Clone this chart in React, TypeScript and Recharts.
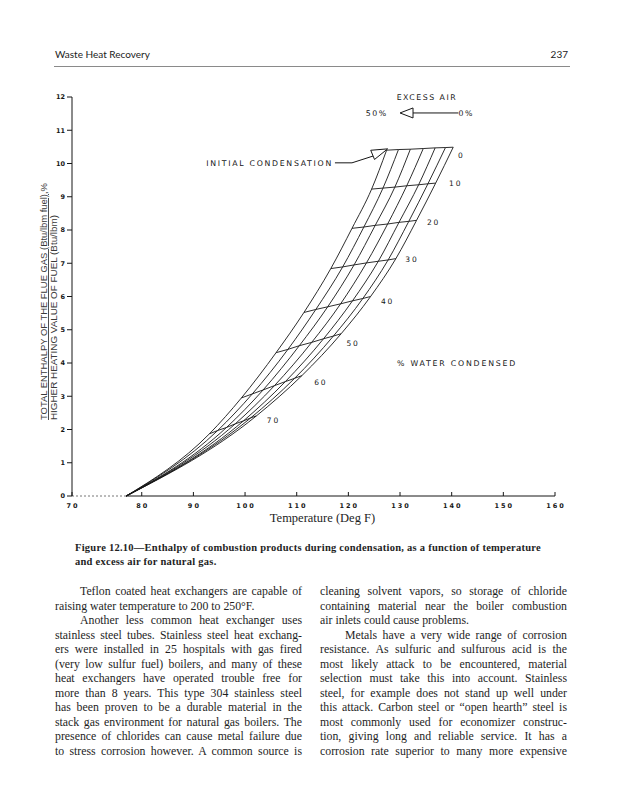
import React from "react";
import { LineChart, Line, XAxis, YAxis, ReferenceDot, ReferenceLine } from "recharts";

const waterCondensed = [0, 10, 20, 30, 40, 50, 60, 70];
const excessAir = [50, 40, 30, 20, 10, 5, 0];
const tempTicks = [70, 80, 90, 100, 110, 120, 130, 140, 150, 160];
const enthalpyTicks = [0, 1, 2, 3, 4, 5, 6, 7, 8, 9, 10, 11, 12];
const startTemp = 77; // every curve leaves the axis here
// the drawn axis starts a little left of 70 deg (first interval is stretched on the original)
const axisStart = 66.5;

// deg F where each excess-air curve crosses the 0..70 % condensed lines
const temp50 = [127.4, 124.5, 120.7, 116.6, 111.4, 106.0, 99.3, 93.1];
const temp40 = [129.7, 126.7, 123.0, 118.9, 113.7, 108.3, 101.4, 94.7];
const temp30 = [132.0, 129.0, 125.2, 121.1, 116.0, 110.5, 103.5, 96.4];
const temp20 = [134.5, 131.3, 127.6, 123.5, 118.5, 112.9, 105.7, 98.1];
const temp10 = [136.8, 133.6, 129.8, 125.8, 120.8, 115.2, 107.8, 99.7];
const temp5 = [138.8, 135.4, 131.7, 127.7, 122.8, 117.1, 109.6, 101.1];
const temp0 = [140.3, 136.9, 133.2, 129.2, 124.3, 118.6, 111.0, 102.2];

// enthalpy / HHV (%) at the same crossings
const enth50 = [10.4, 9.23, 8.05, 6.84, 5.52, 4.31, 2.95, 1.87];
const enth40 = [10.42, 9.26, 8.09, 6.89, 5.61, 4.41, 3.07, 1.97];
const enth30 = [10.43, 9.29, 8.14, 6.95, 5.69, 4.52, 3.19, 2.06];
const enth20 = [10.45, 9.33, 8.18, 7.01, 5.78, 4.62, 3.32, 2.17];
const enth10 = [10.47, 9.36, 8.23, 7.06, 5.87, 4.73, 3.44, 2.26];
const enth5 = [10.48, 9.39, 8.26, 7.1, 5.94, 4.81, 3.54, 2.35];
const enth0 = [10.49, 9.41, 8.29, 7.14, 6.0, 4.88, 3.62, 2.41];

const temps = [temp50, temp40, temp30, temp20, temp10, temp5, temp0];
const enths = [enth50, enth40, enth30, enth20, enth10, enth5, enth0];

const curves = excessAir.map((ea, i) => ({
  ea,
  points: [
    { t: startTemp, v: 0 },
    ...waterCondensed.map((_, j) => ({ t: temps[i][j], v: enths[i][j] })).reverse(),
  ],
}));

const crossLines = waterCondensed.map((w, j) => ({
  w,
  points: excessAir.map((_, i) => ({ t: temps[i][j], v: enths[i][j] })),
}));

const axisTicks = [axisStart, ...tempTicks.slice(1)];

const INK = "#161616";
const LETTER = "'DejaVu Sans', sans-serif";

// where the "% condensed" numbers sit relative to the end of their line (px)
const levelNudge: Record<number, [number, number]> = {
  0: [8, 11], 10: [20, 3], 20: [17, 5], 30: [16, 3], 40: [17, 7], 50: [12, 12], 60: [19, 9], 70: [17, 7],
};

const lettering = (text: string, dx: number, dy: number, anchor = "middle", size = 7.8, spacing = 1.5) =>
  (p: any) => (
    <text x={p.cx + dx} y={p.cy + dy} textAnchor={anchor} fontSize={size} fontFamily={LETTER}
      fill={INK} style={{ letterSpacing: spacing }}>{text}</text>
  );

const XTick = (p: any) => (
  <g>
    <line x1={p.x} x2={p.x} y1={p.y} y2={p.y - 4} stroke={INK} />
    <text x={p.x + 1} y={p.y + 12} textAnchor="middle" fontSize={6.5} fontFamily={LETTER}
      fontWeight="bold" fill={INK} style={{ letterSpacing: 2 }}>
      {p.payload.value === axisStart ? tempTicks[0] : p.payload.value}
    </text>
  </g>
);

const leftLines = [
  { s: "Teflon coated heat exchangers are capable of", indent: true },
  { s: "raising water temperature to 200 to 250°F.", last: true },
  { s: "Another less common heat exchanger uses", indent: true },
  { s: "stainless steel tubes. Stainless steel heat exchang-" },
  { s: "ers were installed in 25 hospitals with gas fired" },
  { s: "(very low sulfur fuel) boilers, and many of these" },
  { s: "heat exchangers have operated trouble free for" },
  { s: "more than 8 years. This type 304 stainless steel" },
  { s: "has been proven to be a durable material in the" },
  { s: "stack gas environment for natural gas boilers. The" },
  { s: "presence of chlorides can cause metal failure due" },
  { s: "to stress corrosion however. A common source is" },
];

const rightLines = [
  { s: "cleaning solvent vapors, so storage of chloride" },
  { s: "containing material near the boiler combustion" },
  { s: "air inlets could cause problems.", last: true },
  { s: "Metals have a very wide range of corrosion", indent: true },
  { s: "resistance. As sulfuric and sulfurous acid is the" },
  { s: "most likely attack to be encountered, material" },
  { s: "selection must take this into account. Stainless" },
  { s: "steel, for example does not stand up well under" },
  { s: "this attack. Carbon steel or “open hearth” steel is" },
  { s: "most commonly used for economizer construc-" },
  { s: "tion, giving long and reliable service. It has a" },
  { s: "corrosion rate superior to many more expensive" },
];

function Column({ lines, left }: { lines: any[]; left: number }) {
  return (
    <div style={{ position: "absolute", left, top: 584, width: 247, fontFamily: "'Liberation Serif', serif", fontSize: 11.8, lineHeight: "14.5px", color: "#1e1e1e" }}>
      {lines.map((l, i) => (
        <div key={i} style={{ paddingLeft: l.indent ? 25 : 0, textAlign: "justify", textAlignLast: l.last ? "left" : "justify", whiteSpace: "nowrap" }}>{l.s}</div>
      ))}
    </div>
  );
}

export default function App() {
  return (
    <div style={{ position: "absolute", left: 0, top: 0, width: 619, height: 800, background: "#fff", overflow: "hidden" }}>
      <div style={{ position: "absolute", left: 55, top: 48, fontFamily: "Lato, sans-serif", fontSize: 10, color: "#222" }}>Waste Heat Recovery</div>
      <div style={{ position: "absolute", right: 51, top: 48, fontFamily: "Lato, sans-serif", fontSize: 10, color: "#222" }}>237</div>
      <div style={{ position: "absolute", left: 54, top: 66, width: 516, height: 1, background: "#8a8a8a" }} />

      <div style={{ position: "absolute", left: 0, top: 0 }}>
        <LineChart width={619} height={540} margin={{ top: 97, right: 64, bottom: 0, left: 0 }}>
          <XAxis type="number" dataKey="t" domain={[axisStart, 160]} ticks={axisTicks} axisLine={false}
            tickSize={0} tickMargin={0} height={44} tick={(p: any) => <XTick {...p} />}
            label={{ value: "Temperature (Deg F)", position: "insideBottom", offset: 18, dx: 9, fontSize: 12.5, fontFamily: "'Liberation Serif', serif", fill: "#1e1e1e" }} />
          <YAxis type="number" domain={[0, 12]} ticks={enthalpyTicks} width={72} tickSize={5} tickMargin={2}
            axisLine={{ stroke: INK }} tickLine={{ stroke: INK }}
            tick={{ fontSize: 6.5, fontFamily: LETTER, fontWeight: "bold", fill: INK }} />

          <ReferenceLine segment={[{ x: axisStart, y: 0 }, { x: startTemp, y: 0 }]} stroke="#777" strokeDasharray="2 2" />
          <ReferenceLine segment={[{ x: startTemp, y: 0 }, { x: 160, y: 0 }]} stroke={INK} />

          {curves.map((c) => (
            <Line key={`ea${c.ea}`} data={c.points} dataKey="v" type="monotone" stroke={INK} strokeWidth={0.9}
              dot={false} activeDot={false} isAnimationActive={false} />
          ))}
          {crossLines.map((c) => (
            <Line key={`wc${c.w}`} data={c.points} dataKey="v" type="linear" stroke={INK} strokeWidth={0.9}
              dot={false} activeDot={false} isAnimationActive={false} />
          ))}

          {crossLines.map((c) => {
            const end = c.points[c.points.length - 1];
            const [dx, dy] = levelNudge[c.w];
            return <ReferenceDot key={`lbl${c.w}`} x={end.t} y={end.v} r={1} shape={lettering(String(c.w), dx, dy, "middle", 7.5, 1.8)} />;
          })}

          {/* excess air legend */}
          <ReferenceDot x={135.2} y={12} r={1} shape={lettering("EXCESS AIR", 0, 3)} />
          <ReferenceDot x={125.5} y={11.52} r={1} shape={lettering("50%", 0, 3)} />
          <ReferenceDot x={142.8} y={11.52} r={1} shape={lettering("0%", 0, 3)} />
          <ReferenceLine segment={[{ x: 132.5, y: 11.52 }, { x: 141.3, y: 11.52 }]} stroke={INK} />
          <ReferenceDot x={130} y={11.52} r={1}
            shape={(p: any) => <path d={`M${p.cx},${p.cy} L${p.cx + 13},${p.cy - 5} L${p.cx + 13},${p.cy + 5} Z`} fill="#fff" stroke={INK} />} />

          {/* initial condensation pointer */}
          <ReferenceDot x={117.4} y={10.02} r={1} shape={lettering("INITIAL CONDENSATION", -2, 3, "end", 7.8, 1.7)} />
          <ReferenceLine segment={[{ x: 117.4, y: 10.02 }, { x: 120.7, y: 10.02 }]} stroke={INK} />
          <ReferenceLine segment={[{ x: 120.7, y: 10.02 }, { x: 124.9, y: 10.23 }]} stroke={INK} />
          <ReferenceDot x={127.6} y={10.44} r={1}
            shape={(p: any) => <path d={`M${p.cx},${p.cy} L${p.cx - 13.1},${p.cy + 10.6} L${p.cx - 16.9},${p.cy + 1.4} Z`} fill="#fff" stroke={INK} />} />

          <ReferenceDot x={129.4} y={4.0} r={1} shape={lettering("% WATER CONDENSED", 0, 3, "start", 7.8, 1.8)} />
        </LineChart>
      </div>

      <svg style={{ position: "absolute", left: 0, top: 0 }} width={100} height={500}>
        <text transform="translate(47,420) rotate(-90)" fontSize={9} fontFamily="'Liberation Sans', sans-serif" fill="#3a3a3a"
          textLength={237} lengthAdjust="spacingAndGlyphs">
          <tspan textDecoration="underline">TOTAL ENTHALPY OF THE FLUE GAS (Btu/lbm fuel)</tspan>,%
        </text>
        <text transform="translate(56.5,420) rotate(-90)" fontSize={9} fontFamily="'Liberation Sans', sans-serif" fill="#3a3a3a"
          textLength={205} lengthAdjust="spacingAndGlyphs">HIGHER HEATING VALUE OF FUEL (Btu/lbm)</text>
      </svg>

      <div style={{ position: "absolute", left: 75, top: 541, width: 500, fontFamily: "'Liberation Serif', serif", fontWeight: "bold", fontSize: 10.5, letterSpacing: 0.25, lineHeight: "14px", color: "#1e1e1e" }}>
        <div>Figure 12.10—Enthalpy of combustion products during condensation, as a function of temperature</div>
        <div>and excess air for natural gas.</div>
      </div>

      <Column lines={leftLines} left={55} />
      <Column lines={rightLines} left={320} />
    </div>
  );
}
